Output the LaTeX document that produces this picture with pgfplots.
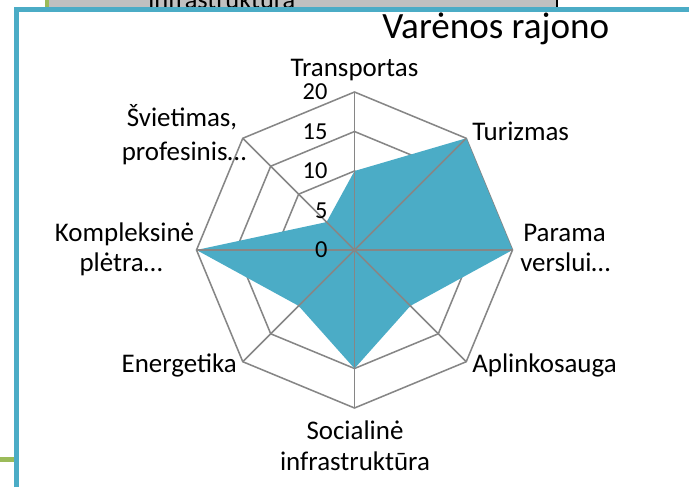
\documentclass[border=0pt]{standalone}
\usepackage{pgfplots}
\pgfplotsset{compat=1.18}
\usepackage{fontspec}
\setmainfont{Carlito}
\definecolor{teal1}{HTML}{4BACC6}
\definecolor{gridg}{HTML}{868686}
\definecolor{boxg}{HTML}{C0C0C0}
\definecolor{grn}{HTML}{9BBB59}
\begin{document}
\begin{tikzpicture}
\begin{scope}[x=0.75pt,y=0.75pt]
\useasboundingbox (0,0) rectangle (689,487);
\fill[white] (0,0) rectangle (689,487);
% background slide pieces
\fill[boxg] (45,480) rectangle (557,487);
\fill[grn] (45,480) rectangle (49,487);
\draw[black,line width=0.8pt] (557,480) -- (557,487);
\node[anchor=base west,inner sep=0pt,font=\fontsize{19.8}{22}\selectfont] at (148,479) {infrastruktura};
\fill[white] (17,0) rectangle (689,478);
\fill[grn] (0,25) rectangle (15,30);
% frame
\draw[teal1,line width=3.75pt] (14.5,477.5) -- (689,477.5);
\draw[teal1,line width=3.75pt] (16.8,0) -- (16.8,480);
% title
\node[anchor=base west,inner sep=0pt,font=\fontsize{27.8}{30}\selectfont] at (382,449) {Varėnos rajono};
\end{scope}
\begin{axis}[at={(265.875pt,177.75pt)},anchor=center,scale only axis,width=237pt,height=237pt,
  xmin=-20,xmax=20,ymin=-20,ymax=20,hide axis,clip=false]
\pgfplotsset{ring/.style={draw=gridg,line width=1.15pt,line join=miter,mark=none,data cs=polar}}
\addplot[ring] coordinates {(90,5) (45,5) (0,5) (-45,5) (-90,5) (-135,5) (180,5) (135,5)} -- cycle;
\addplot[ring] coordinates {(90,10) (45,10) (0,10) (-45,10) (-90,10) (-135,10) (180,10) (135,10)} -- cycle;
\addplot[ring] coordinates {(90,15) (45,15) (0,15) (-45,15) (-90,15) (-135,15) (180,15) (135,15)} -- cycle;
\addplot[ring] coordinates {(90,20) (45,20) (0,20) (-45,20) (-90,20) (-135,20) (180,20) (135,20)} -- cycle;
% data: Transportas, Turizmas, Parama verslui, Aplinkosauga, Socialine infr., Energetika, Kompleksine pletra, Svietimas
\addplot[fill=teal1,draw=none,mark=none,data cs=polar] coordinates {(90,10) (45,20) (0,20) (-45,10) (-90,15) (-135,10) (180,20) (135,5)} -- cycle;
\addplot[ring] coordinates {(90,20) (-90,20)};
\addplot[ring] coordinates {(45,20) (-135,20)};
\addplot[ring] coordinates {(0,20) (180,20)};
\addplot[ring] coordinates {(135,20) (-45,20)};
\node[anchor=east,inner sep=0pt,font=\fontsize{18.3}{20}\selectfont] at (axis cs:-3.4,0) {0};
\node[anchor=east,inner sep=0pt,font=\fontsize{18.3}{20}\selectfont] at (axis cs:-3.4,5) {5};
\node[anchor=east,inner sep=0pt,font=\fontsize{18.3}{20}\selectfont] at (axis cs:-3.4,10) {10};
\node[anchor=east,inner sep=0pt,font=\fontsize{18.3}{20}\selectfont] at (axis cs:-3.4,15) {15};
\node[anchor=east,inner sep=0pt,font=\fontsize{18.3}{20}\selectfont] at (axis cs:-3.4,20) {20};
\end{axis}
% category labels
\begin{scope}[x=0.75pt,y=0.75pt,every node/.style={inner sep=0pt,font=\fontsize{20.2}{22}\selectfont}]
\node[anchor=base] at (354.5,411) {Transportas};
\node[anchor=base west] at (472,346.3) {Turizmas};
\node[anchor=base west] at (523,246) {Parama};
\node[anchor=base west] at (520,215.3) {verslui…};
\node[anchor=base west] at (472,115) {Aplinkosauga};
\node[anchor=base] at (355,48) {Socialinė};
\node[anchor=base] at (355,17) {infrastruktūra};
\node[anchor=base east] at (237,114.3) {Energetika};
\node[anchor=base] at (124.5,245.3) {Kompleksinė};
\node[anchor=base] at (121,215.3) {plėtra…};
\node[anchor=base] at (182,360.3) {Švietimas,};
\node[anchor=base] at (184,327) {profesinis…};
\end{scope}
\end{tikzpicture}
\end{document}
